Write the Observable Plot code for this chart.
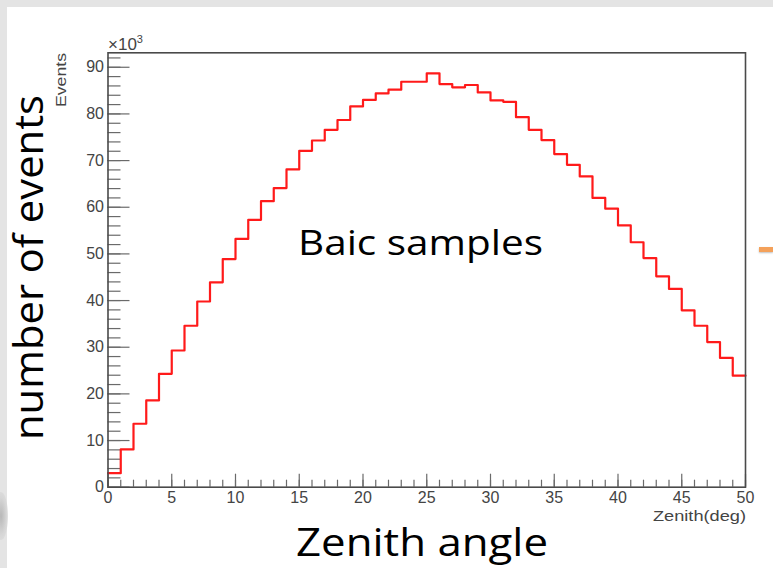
<!DOCTYPE html>
<html>
<head>
<meta charset="utf-8">
<script src="https://cdn.jsdelivr.net/npm/d3@7"></script>
<script src="https://cdn.jsdelivr.net/npm/@observablehq/plot@0.6"></script>
<style>
  html, body { margin: 0; padding: 0; background: #e4e4e4; }
  #stage { position: relative; width: 773px; height: 568px; overflow: hidden; }
  #panel { position: absolute; left: 7px; top: 7px; right: 0; bottom: 0; background: #ffffff; }
  #chart { position: absolute; left: 0; top: 0; }
  #overlay { position: absolute; left: 0; top: 0; pointer-events: none; }
  #arrow { position: absolute; left: 759px; top: 247px; width: 14px; height: 5px; background: #f4a15a; box-shadow: 0 1px 2px rgba(0,0,0,0.25); }
  #logo { position: absolute; left: -6px; top: 492px; width: 14px; height: 48px; border-radius: 50%;
          background: radial-gradient(ellipse at center, #b8b8b8 0%, #d6d6d6 55%, rgba(255,255,255,0) 100%); }
</style>
</head>
<body>
<div id="stage">
  <div id="panel"></div>
  <div id="logo"></div>
  <div id="arrow"></div>
  <div id="chart"></div>
  <svg id="overlay" width="773" height="568"></svg>
</div>
<script>
// ---- data (events per 1-degree zenith bin, in units of 10^3) ----
const binEdges = d3.range(0, 51, 1);            // 0,1,...,50 deg
const counts = [
  3.0, 8.1, 13.6, 18.6, 24.3, 29.3, 34.6, 39.8, 43.9, 48.9,
  53.2, 57.3, 61.3, 64.1, 68.1, 72.1, 74.3, 76.6, 78.7, 81.6,
  83.0, 84.4, 85.2, 86.9, 86.9, 88.7, 86.4, 85.7, 86.2, 84.6,
  82.9, 82.6, 79.3, 76.6, 74.4, 71.4, 69.1, 66.6, 62.0, 59.7,
  56.1, 52.5, 49.1, 45.2, 42.5, 37.9, 34.6, 31.1, 27.7, 23.9
];
const xMajorTicks = [0, 5, 10, 15, 20, 25, 30, 35, 40, 45, 50];
const xMinorTicks = d3.range(0, 51, 1);
const yMajorTicks = [0, 10, 20, 30, 40, 50, 60, 70, 80, 90];
const yMinorTicks = d3.range(0, 93, 2);
const yMax = 93.1;

// step outline points: each bin's lower edge, plus the closing upper edge
const steps = counts.map((c, i) => ({x: binEdges[i], y: c}));
steps.push({x: binEdges[binEdges.length - 1], y: counts[counts.length - 1]});

const W = 773, H = 568;
const mL = 107.5, mR = 28, mT = 52.3, mB = 81.3;
const plotW = W - mL - mR, plotH = H - mT - mB;
const tickColor = "#6a6a6a";
const labelColor = "#444444";
const labelFont = "Liberation Sans, Arial, Helvetica, sans-serif";

const chart = Plot.plot({
  width: W,
  height: H,
  marginLeft: mL,
  marginRight: mR,
  marginTop: mT,
  marginBottom: mB,
  style: {background: "transparent", fontFamily: labelFont, fontSize: "16px", color: labelColor},
  x: {domain: [0, 50], label: null},
  y: {domain: [0, yMax], label: null},
  marks: [
    Plot.tickX(xMinorTicks, {x: d => d, insetTop: plotH - 7, stroke: tickColor, strokeWidth: 1.2}),
    Plot.tickX(xMajorTicks, {x: d => d, insetTop: plotH - 13, stroke: tickColor, strokeWidth: 1.2}),
    Plot.tickY(yMinorTicks, {y: d => d, insetRight: plotW - 13, stroke: tickColor, strokeWidth: 1.2}),
    Plot.tickY(yMajorTicks, {y: d => d, insetRight: plotW - 22, stroke: tickColor, strokeWidth: 1.2}),
    Plot.axisX({ticks: xMajorTicks, tickSize: 0, tickPadding: 4, label: null, fontSize: 16, fill: labelColor}),
    Plot.axisY({ticks: yMajorTicks, tickSize: 0, tickPadding: 4, label: null, fontSize: 16, fill: labelColor}),
    Plot.line(steps, {x: "x", y: "y", curve: "step-after", stroke: "#ff1a1a", strokeWidth: 2.2}),
    Plot.frame({stroke: "#4a4a4a", strokeWidth: 1.6})
  ]
});
document.getElementById("chart").appendChild(chart);

// ---- annotation texts ----
const ov = d3.select("#overlay");
const big = "'Open Sans', Lato, sans-serif";

// ROOT exponent label
const ex = ov.append("text").attr("x", 108).attr("y", 50)
  .attr("font-family", labelFont).attr("font-size", 17).attr("fill", labelColor);
ex.append("tspan").text("\u00d710");
ex.append("tspan").attr("dy", -7).attr("font-size", 11).text("3");

// ROOT axis titles
ov.append("text").attr("transform", "translate(66,80) rotate(-90)")
  .attr("text-anchor", "middle").attr("font-family", labelFont).attr("font-size", 15)
  .attr("textLength", 54).attr("lengthAdjust", "spacingAndGlyphs")
  .attr("fill", labelColor).text("Events");
ov.append("text").attr("x", 746).attr("y", 521)
  .attr("text-anchor", "end").attr("font-family", labelFont).attr("font-size", 15)
  .attr("textLength", 93).attr("lengthAdjust", "spacingAndGlyphs")
  .attr("fill", labelColor).text("Zenith(deg)");

// slide texts
ov.append("text").attr("x", 298).attr("y", 255)
  .attr("font-family", big).attr("font-size", 35)
  .attr("textLength", 245).attr("lengthAdjust", "spacingAndGlyphs")
  .attr("fill", "#000").text("Baic samples");
ov.append("text").attr("x", 296).attr("y", 556)
  .attr("font-family", big).attr("font-size", 39)
  .attr("textLength", 252).attr("lengthAdjust", "spacingAndGlyphs")
  .attr("fill", "#000").text("Zenith angle");
ov.append("text").attr("transform", "translate(43,440) rotate(-90)")
  .attr("font-family", big).attr("font-size", 41)
  .attr("textLength", 345).attr("lengthAdjust", "spacingAndGlyphs")
  .attr("fill", "#000").text("number of events");
</script>
</body>
</html>
